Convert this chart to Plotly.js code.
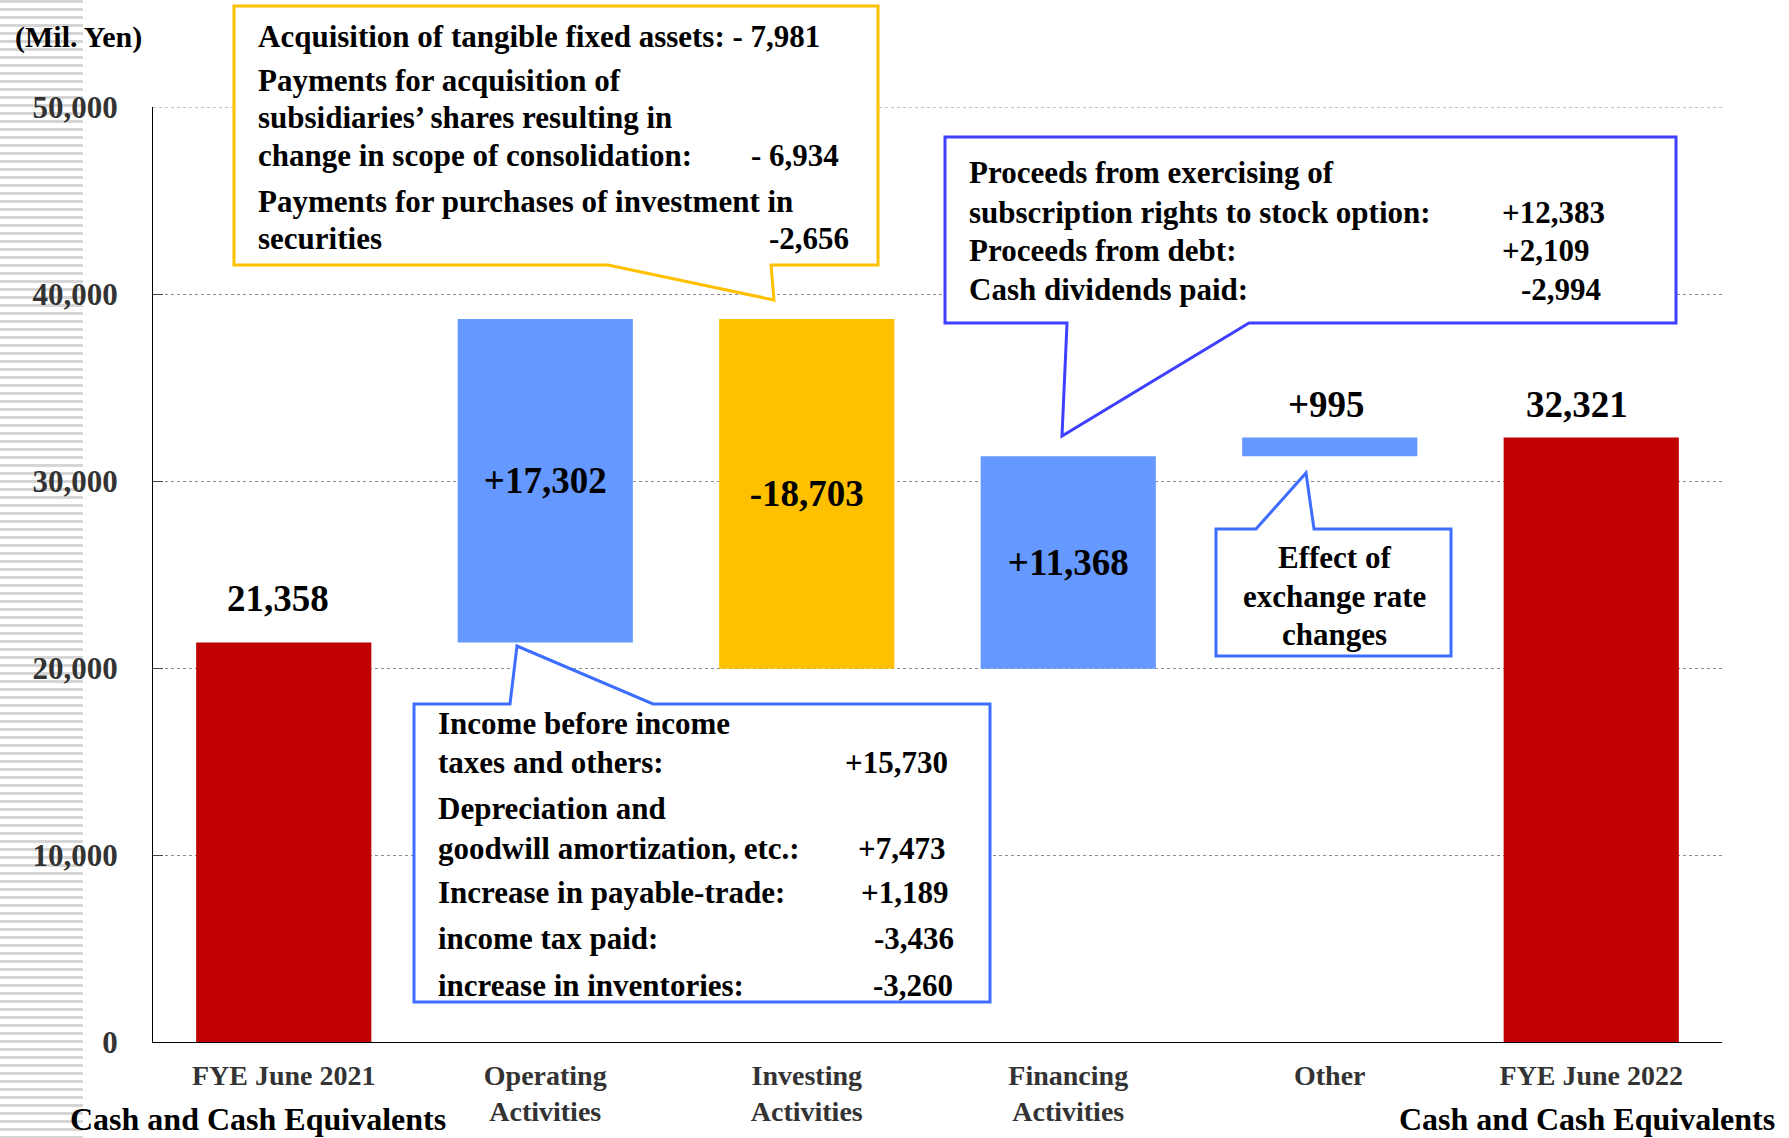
<!DOCTYPE html>
<html><head><meta charset="utf-8">
<script src="https://cdn.plot.ly/plotly-3.0.1.min.js"></script>
<style>
html,body{margin:0;padding:0;background:#fff;}
#wrap{position:relative;width:1789px;height:1138px;overflow:hidden;}
#stripes{position:absolute;left:0;top:0;width:83px;height:1138px;background:repeating-linear-gradient(to bottom,#d6d6d6 0px,#d6d6d6 3px,#ffffff 3px,#ffffff 8px);}
#chart{position:absolute;left:0;top:0;width:1789px;height:1138px;}
</style></head><body>
<div id="wrap"><div id="stripes"></div><div id="chart"></div></div>
<script>
// ---- data ----
const categories = ['FYE June 2021', 'Operating<br>Activities', 'Investing<br>Activities', 'Financing<br>Activities', 'Other', 'FYE June 2022'];
const measures = ['absolute', 'relative', 'relative', 'relative', 'relative', 'absolute'];
const values = [21358, 17302, -18703, 11368, 995, 32321];
const valueLabels = ['21,358', '+17,302', '-18,703', '+11,368', '+995', '32,321'];
const yTickVals = [0, 10000, 20000, 30000, 40000, 50000];
const yTickText = ['0', '10,000', '20,000', '30,000', '40,000', '50,000'];
const unitLabel = '(Mil. Yen)';
const cashLabel = 'Cash and Cash Equivalents';

const investingNotes = ['Acquisition of tangible fixed assets: - 7,981', 'Payments for acquisition of', 'subsidiaries\u2019 shares resulting in', 'change in scope of consolidation:', 'Payments for purchases of investment in', 'securities'];
const investingValues = ['', '', '', '- 6,934', '', '-2,656'];
const financingNotes = ['Proceeds from exercising of', 'subscription rights to stock option:', 'Proceeds from debt:', 'Cash dividends paid:'];
const financingValues = ['', '+12,383', '+2,109', '-2,994'];
const operatingNotes = ['Income before income', 'taxes and others:', 'Depreciation and', 'goodwill amortization, etc.:', 'Increase in payable-trade:', 'income tax paid:', 'increase in inventories:'];
const operatingValues = ['', '+15,730', '', '+7,473', '+1,189', '-3,436', '-3,260'];
const fxNotes = ['Effect of', 'exchange rate', 'changes'];

// ---- layout helpers ----
const FONT = '"Liberation Serif", "Times New Roman", serif';
const W = 1789, H = 1138, ML = 153, MR = 67, MT = 107, MB = 96;
const PW = W - ML - MR, PH = H - MT - MB;
const fx = x => (x - ML) / PW;
const fy = y => (H - MB - y) / PH;
function pathOf(pts) {
  return 'M ' + pts.map(p => fx(p[0]).toFixed(5) + ',' + fy(p[1]).toFixed(5)).join(' L ') + ' Z';
}
function txt(text, x, y, anchor, size, color) {
  return {xref: 'paper', yref: 'paper', x: fx(x), y: fy(y), xanchor: anchor, yanchor: 'middle',
    text: text, showarrow: false, font: {family: FONT, size: size, color: color || '#000', weight: 'bold'}};
}

// running totals (bar tops) from data
let run = 0;
const ends = values.map((v, i) => measures[i] === 'absolute' ? (run = v) : (run += v));

const textPos = ['none', 'inside', 'inside', 'inside', 'none', 'none'];
const outsideIdx = [0, 4, 5];
const outsideYShift = [44, 33, 33];
const outsideXShift = [-6, -3, -14];

const trace = {
  type: 'waterfall',
  x: categories,
  y: values,
  measure: measures,
  text: valueLabels,
  textposition: textPos,
  insidetextanchor: 'middle',
  textfont: {family: FONT, size: 37, color: '#000', weight: 'bold'},
  insidetextfont: {family: FONT, size: 37, color: '#000', weight: 'bold'},
  increasing: {marker: {color: '#6699FF'}},
  decreasing: {marker: {color: '#FFC000'}},
  totals: {marker: {color: '#C00000'}},
  connector: {visible: false},
  hoverinfo: 'skip',
  cliponaxis: false
};

const annotations = [];
outsideIdx.forEach((i, k) => {
  annotations.push({x: categories[i], y: ends[i], xref: 'x', yref: 'y', yanchor: 'middle', xanchor: 'center',
    yshift: outsideYShift[k], xshift: outsideXShift[k], showarrow: false, text: valueLabels[i],
    font: {family: FONT, size: 37, color: '#000', weight: 'bold'}});
});
annotations.push(txt(unitLabel, 13, 37, 'left', 30));
annotations.push(txt(cashLabel, 258, 1119, 'center', 32));
annotations.push(txt(cashLabel, 1587, 1119, 'center', 32));

// callout text positions (pixels)
const invY = [37, 80, 118, 156, 201, 238];
const invValRight = [0, 0, 0, 841, 0, 851];
investingNotes.forEach((t, i) => {
  annotations.push(txt(t, 256, invY[i], 'left', 31));
  if (investingValues[i]) annotations.push(txt(investingValues[i], invValRight[i], invY[i], 'right', 31));
});
const finY = [173, 212, 250, 289];
const finValLeft = [0, 1500, 1500, 1519];
financingNotes.forEach((t, i) => {
  annotations.push(txt(t, 967, finY[i], 'left', 31));
  if (financingValues[i]) annotations.push(txt(financingValues[i], finValLeft[i], finY[i], 'left', 31));
});
const opY = [723, 762, 809, 848, 892, 938, 985];
const opValRight = [0, 950, 0, 947, 950, 956, 955];
operatingNotes.forEach((t, i) => {
  annotations.push(txt(t, 436, opY[i], 'left', 31));
  if (operatingValues[i]) annotations.push(txt(operatingValues[i], opValRight[i], opY[i], 'right', 31));
});
const fxY = [557, 596, 634];
fxNotes.forEach((t, i) => annotations.push(txt(t, 1334, fxY[i], 'center', 31)));

const shapes = [
  // top gridline (Plotly omits the gridline on the plot edge)
  {type: 'line', xref: 'paper', yref: 'y', x0: 0, x1: 1, y0: yTickVals[yTickVals.length - 1], y1: yTickVals[yTickVals.length - 1],
    layer: 'below', line: {color: '#8c8c8c', width: 1, dash: 'dot'}},
  {type: 'path', xref: 'paper', yref: 'paper', layer: 'above', fillcolor: '#ffffff', line: {color: '#FFC000', width: 3},
    path: pathOf([[234, 6], [878, 6], [878, 265], [771, 265], [774, 300], [608, 265], [234, 265]])},
  {type: 'path', xref: 'paper', yref: 'paper', layer: 'above', fillcolor: '#ffffff', line: {color: '#3D6EFF', width: 3},
    path: pathOf([[414, 704], [510, 704], [517, 646], [653, 704], [990, 704], [990, 1002], [414, 1002]])},
  {type: 'path', xref: 'paper', yref: 'paper', layer: 'above', fillcolor: '#ffffff', line: {color: '#3F3FFF', width: 3},
    path: pathOf([[945, 137], [1676, 137], [1676, 323], [1249, 323], [1062, 436], [1067, 323], [945, 323]])},
  {type: 'path', xref: 'paper', yref: 'paper', layer: 'above', fillcolor: '#ffffff', line: {color: '#3D6EFF', width: 3},
    path: pathOf([[1216, 529], [1256, 529], [1306, 473], [1314, 529], [1451, 529], [1451, 656], [1216, 656]])}
];

const layout = {
  width: W, height: H,
  margin: {l: ML, r: MR, t: MT, b: MB, pad: 0},
  paper_bgcolor: 'rgba(0,0,0,0)',
  plot_bgcolor: '#ffffff',
  showlegend: false,
  waterfallgap: 0.33,
  font: {family: FONT},
  xaxis: {
    type: 'category', showline: true, linecolor: '#000', linewidth: 1, ticks: '', showgrid: false,
    tickfont: {family: FONT, size: 28, color: '#333', weight: 'bold'}, ticklabelstandoff: 8, fixedrange: true
  },
  yaxis: {
    range: [0, 50000], tickvals: yTickVals, ticktext: yTickText, showline: true, linecolor: '#000', linewidth: 1,
    ticks: 'inside', ticklen: 10, tickcolor: '#444', showgrid: true, gridcolor: '#8c8c8c', griddash: 'dot', gridwidth: 1,
    zeroline: false, tickfont: {family: FONT, size: 31, color: '#333', weight: 'bold'}, ticklabelstandoff: 28, fixedrange: true
  },
  shapes: shapes,
  annotations: annotations
};

Plotly.newPlot('chart', [trace], layout, {displayModeBar: false, staticPlot: true});
</script>
</body></html>
